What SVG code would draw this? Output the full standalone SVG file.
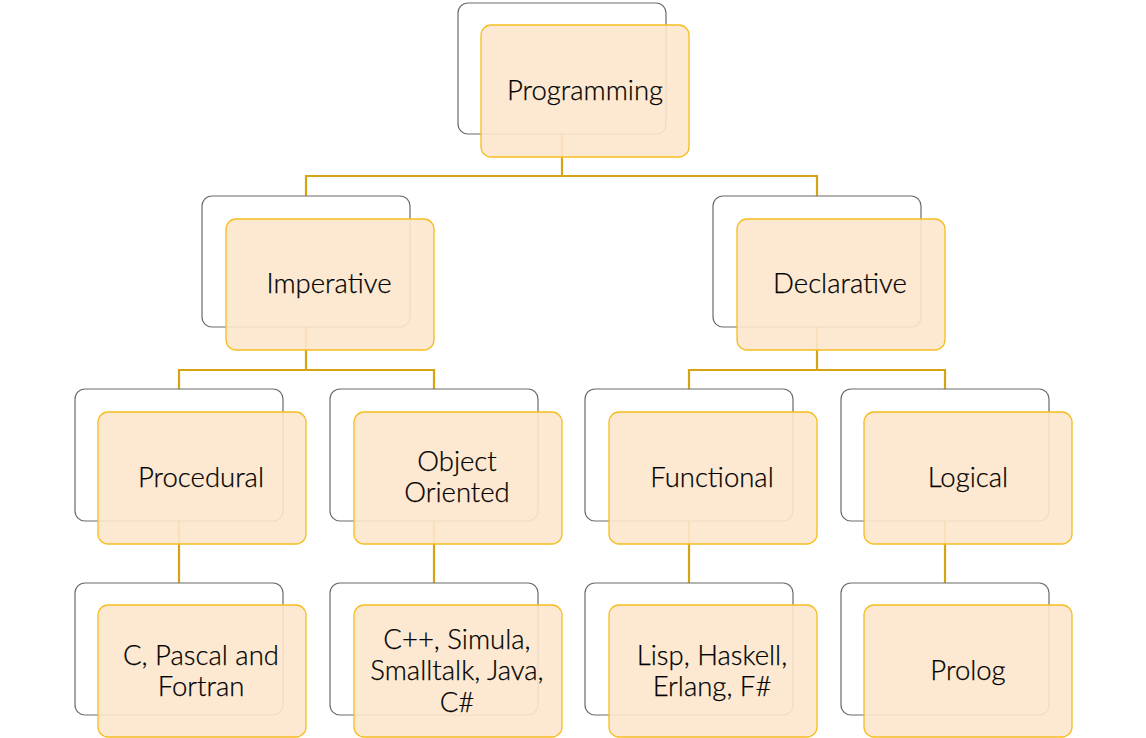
<svg xmlns="http://www.w3.org/2000/svg" width="1146" height="738" viewBox="0 0 1146 738">
<style>
.back{fill:#fff;stroke:#6b6b6b;stroke-width:1.2}
.front{fill:#fde7cc;fill-opacity:0.9;stroke:#f5bd1f;stroke-width:1.3}
.lbl{font-family:Lato,"Open Sans",sans-serif;font-size:27.5px;font-weight:300;fill:#000;stroke:#000;stroke-width:0.25;text-anchor:middle;dominant-baseline:central}
.conn{fill:none;stroke:#d6a312;stroke-width:2.2}
</style>
<rect width="1146" height="738" fill="#fff"/>
<g id="connectors">
<path class="conn" d="M562 134V176M306 196V176H817V196"/>
<path class="conn" d="M306 327V370M179 389V370H434V389"/>
<path class="conn" d="M817 327V370M689 389V370H945V389"/>
<path class="conn" d="M179 521V583M434 521V583M689 521V583M945 521V583"/>
</g>
<g id="programming"><rect class="back" x="458" y="3" width="208" height="131" rx="10"/><rect class="front" x="481" y="25" width="208" height="132" rx="10"/><text class="lbl" x="585" y="89">Programming</text></g>
<g id="imperative"><rect class="back" x="202" y="196" width="208" height="131" rx="10"/><rect class="front" x="226" y="219" width="208" height="131" rx="10"/><text class="lbl" x="329" y="282">Imperative</text></g>
<g id="declarative"><rect class="back" x="713" y="196" width="208" height="131" rx="10"/><rect class="front" x="737" y="219" width="208" height="131" rx="10"/><text class="lbl" x="840" y="282">Declarative</text></g>
<g id="procedural"><rect class="back" x="75" y="389" width="208" height="132" rx="10"/><rect class="front" x="98" y="412" width="208" height="132" rx="10"/><text class="lbl" x="201" y="476">Procedural</text></g>
<g id="object-oriented"><rect class="back" x="330" y="389" width="208" height="132" rx="10"/><rect class="front" x="354" y="412" width="208" height="132" rx="10"/><text class="lbl" x="457" y="460">Object</text><text class="lbl" x="457" y="491">Oriented</text></g>
<g id="functional"><rect class="back" x="585" y="389" width="208" height="132" rx="10"/><rect class="front" x="609" y="412" width="208" height="132" rx="10"/><text class="lbl" x="712" y="476">Functional</text></g>
<g id="logical"><rect class="back" x="841" y="389" width="208" height="132" rx="10"/><rect class="front" x="864" y="412" width="208" height="132" rx="10"/><text class="lbl" x="968" y="476">Logical</text></g>
<g id="c-pascal-fortran"><rect class="back" x="75" y="583" width="208" height="132" rx="10"/><rect class="front" x="98" y="605" width="208" height="132" rx="10"/><text class="lbl" x="201" y="654">C, Pascal and</text><text class="lbl" x="201" y="685">Fortran</text></g>
<g id="cpp-simula"><rect class="back" x="330" y="583" width="208" height="132" rx="10"/><rect class="front" x="354" y="605" width="208" height="132" rx="10"/><text class="lbl" x="457" y="638">C++, Simula,</text><text class="lbl" x="457" y="669">Smalltalk, Java,</text><text class="lbl" x="457" y="701">C#</text></g>
<g id="lisp-haskell"><rect class="back" x="585" y="583" width="208" height="132" rx="10"/><rect class="front" x="609" y="605" width="208" height="132" rx="10"/><text class="lbl" x="712" y="654">Lisp, Haskell,</text><text class="lbl" x="712" y="685">Erlang, F#</text></g>
<g id="prolog"><rect class="back" x="841" y="583" width="208" height="132" rx="10"/><rect class="front" x="864" y="605" width="208" height="132" rx="10"/><text class="lbl" x="968" y="669">Prolog</text></g>
</svg>
